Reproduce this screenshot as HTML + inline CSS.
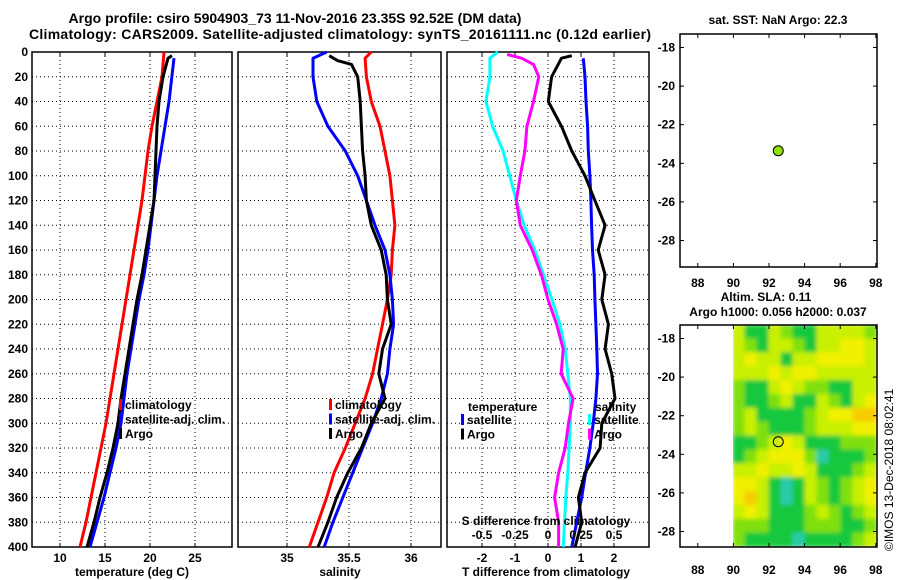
<!DOCTYPE html>
<html><head><meta charset="utf-8">
<style>
html,body{margin:0;padding:0;background:#fff;}
svg{display:block;font-family:"Liberation Sans",sans-serif;font-weight:bold;}
</style></head>
<body>
<svg id="c" width="900" height="580" viewBox="0 0 900 580">
<defs><filter id="bl" x="0" y="0" width="1" height="1"><feGaussianBlur stdDeviation="2.2"/></filter>
<clipPath id="hmclip"><rect x="733" y="325" width="144" height="222"/></clipPath></defs>
<text x="295" y="23" font-size="14" text-anchor="middle">Argo profile: csiro 5904903_73 11-Nov-2016 23.35S 92.52E (DM data)</text>
<text x="340" y="39" font-size="14" text-anchor="middle" textLength="622">Climatology: CARS2009. Satellite-adjusted climatology: synTS_20161111.nc (0.12d earlier)</text>
<text x="778" y="24" font-size="12" text-anchor="middle">sat. SST: NaN Argo: 22.3</text>
<text x="766" y="301" font-size="12" text-anchor="middle">Altim. SLA: 0.11</text>
<text x="778" y="316" font-size="12" text-anchor="middle">Argo h1000: 0.056 h2000: 0.037</text>
<text transform="translate(893,551) rotate(-90)" font-size="12" font-weight="normal">©IMOS 13-Dec-2018 08:02:41</text>
</svg>
<script>
// ---- data ----
const depthTicks=[0,20,40,60,80,100,120,140,160,180,200,220,240,260,280,300,320,340,360,380,400];
const tTicks=[10,15,20,25];
const sTicks=[35,35.5,36];
const dTTicks=[-2,-1,0,1,2];
const dSTicks=[-0.5,-0.25,0,0.25,0.5];
const dSTickLabels=["-0.5","-0.25","0","0.25","0.5"];
const lonTicks=[88,90,92,94,96,98];
const latTicks=[-18,-20,-22,-24,-26,-28];

const tClimDepth=[0,20,40,60,80,100,120,140,160,180,200,220,240,260,280,300,320,340,360,380,400];
const tClim=[21.56,21.33,20.78,20.22,19.78,19.44,19.11,18.67,18.22,17.78,17.33,16.89,16.44,16.0,15.56,15.11,14.56,14.0,13.44,12.89,12.22];
const tSatDepth=[5,40,60,80,100,120,140,160,180,200,220,240,260,280,300,320,340,360,380,400];
const tSat=[22.67,22.11,21.67,21.22,20.78,20.44,20.11,19.78,19.33,18.78,18.33,17.89,17.44,17.11,16.78,16.22,15.56,14.89,14.11,13.33];
const tArgoDepth=[3,5,20,40,60,80,100,120,140,160,180,200,220,240,260,280,300,320,340,360,380,400];
const tArgo=[22.44,22.0,21.44,21.0,20.78,20.67,20.56,20.44,20.0,19.56,19.11,18.56,18.11,17.67,17.22,16.78,16.44,15.89,15.22,14.44,13.78,13.0];

const sClimDepth=[0,5,20,40,60,80,100,120,140,160,180,200,220,240,260,280,300,320,340,360,380,400];
const sClim=[35.68,35.63,35.64,35.68,35.75,35.79,35.83,35.85,35.87,35.85,35.84,35.81,35.77,35.73,35.69,35.63,35.55,35.47,35.38,35.32,35.25,35.18];
const sSatDepth=[0,5,20,40,60,80,100,120,140,160,180,200,220,240,260,280,300,320,340,360,380,400];
const sSat=[35.32,35.21,35.21,35.24,35.33,35.47,35.57,35.64,35.71,35.79,35.83,35.85,35.86,35.83,35.81,35.76,35.69,35.61,35.53,35.45,35.37,35.30];
const sArgoDepth=[3,7,10,20,40,60,80,100,120,140,160,180,200,220,240,260,280,300,320,340,360,380,400];
const sArgo=[35.34,35.41,35.52,35.57,35.59,35.60,35.61,35.63,35.64,35.68,35.76,35.80,35.81,35.84,35.77,35.74,35.79,35.68,35.60,35.49,35.40,35.33,35.25];

const dTSatDepth=[5,20,40,60,80,100,120,140,160,180,200,220,240,260,280,300,320,340,360,380,400];
const dTSat=[1.07,1.12,1.15,1.2,1.22,1.27,1.3,1.32,1.35,1.4,1.42,1.45,1.48,1.5,1.45,1.37,1.27,1.14,1.02,0.87,0.72];
const dTArgoDepth=[3,5,20,40,60,80,100,120,140,160,180,200,220,240,260,280,300,320,340,360,380,400];
const dTArgo=[0.72,0.41,0.11,0.01,0.41,0.72,1.12,1.42,1.73,1.52,1.73,1.63,1.83,1.73,1.93,2.03,1.63,1.58,1.12,0.92,1.02,0.82];
const dSSatDepth=[0,5,20,40,60,80,100,120,140,160,180,200,220,240,260,280,300,320,340,360,380,400];
const dSSat=[-0.38,-0.44,-0.44,-0.47,-0.42,-0.34,-0.29,-0.24,-0.18,-0.10,-0.035,0.03,0.09,0.13,0.15,0.17,0.17,0.16,0.15,0.135,0.125,0.115];
const dSArgoDepth=[2,5,10,20,40,60,80,100,120,140,160,180,200,220,240,260,280,300,320,340,360,380,400];
const dSArgo=[-0.31,-0.20,-0.11,-0.07,-0.11,-0.16,-0.175,-0.21,-0.24,-0.21,-0.12,-0.05,0.0,0.065,0.115,0.10,0.19,0.155,0.13,0.08,0.05,0.08,0.08];

const argoLon=[92.52];
const argoLat=[-23.35];
const slaRows=[
[3,1,1,3,2,1,1,3,3,3,3,2],
[3,2,1,3,3,2,1,3,3,4,4,3],
[3,4,3,3,1,3,3,4,4,4,4,3],
[3,3,3,4,3,4,4,3,3,3,3,3],
[2,1,1,3,4,3,2,2,1,1,3,3],
[2,1,1,2,3,1,1,3,2,1,3,4],
[2,3,1,1,1,1,2,3,4,4,5,5],
[2,3,2,1,1,1,2,3,3,3,4,4],
[1,1,2,3,4,3,1,1,1,2,2,2],
[1,2,3,4,4,4,2,0,1,1,1,2],
[3,3,4,3,3,4,3,1,1,1,2,3],
[4,4,3,1,0,1,3,2,1,2,3,4],
[4,5,3,1,0,1,3,2,1,2,3,4],
[3,4,3,1,1,1,2,3,2,1,2,3],
[2,2,2,1,1,1,2,2,2,1,1,2],
[2,1,1,1,1,0,1,1,1,1,2,3]];
const slaColors=["#2ccaa8","#18c83c","#80e010","#c8f000","#f0f000","#f8cc00"];

// ---- helpers ----
const svg=document.getElementById('c');
const NS='http://www.w3.org/2000/svg';
function mk(tag,attrs,parent){const e=document.createElementNS(NS,tag);for(const k in attrs)e.setAttribute(k,attrs[k]);(parent||svg).appendChild(e);return e;}
const Y0=52,Y1=547;
const yD=d=>Y0+d*(Y1-Y0)/400;
const P1={x0:32,x1:232},P2={x0:238,x1:441},P3={x0:447,x1:649};
const xT=t=>60+(t-10)*9;
const xS=s=>287+(s-35)*124;
const xDT=t=>548+t*33;
const xDS=s=>548+s*132;

function panel(P,name,xticks,xf,labels){
  const g=mk('g',{});
  
  
  depthTicks.forEach(d=>{ if(d>0&&d<400) mk('line',{x1:P.x0,x2:P.x1,y1:yD(d),y2:yD(d),stroke:'#000','stroke-width':1,'stroke-dasharray':'1,3'},g);});
  xticks.forEach(v=>{mk('line',{x1:xf(v),x2:xf(v),y1:Y0,y2:Y1,stroke:'#000','stroke-width':1,'stroke-dasharray':'1,3'},g);
    mk('line',{x1:xf(v),x2:xf(v),y1:Y1,y2:Y1-4,stroke:'#000'},g);mk('line',{x1:xf(v),x2:xf(v),y1:Y0,y2:Y0+4,stroke:'#000'},g);});
  if(labels) xticks.forEach((v,i)=>{const t=mk('text',{x:xf(v),y:562,'font-size':12,'text-anchor':'middle'},g);t.textContent=labels[i];
    
    });
  mk('rect',{x:P.x0,y:Y0,width:P.x1-P.x0,height:Y1-Y0,fill:'none',stroke:'#000','stroke-width':1.5},g);
  return g;
}
function line(xs,ds,xf,color,name){
  const pts=xs.map((v,i)=>xf(v).toFixed(1)+','+yD(ds[i]).toFixed(1)).join(' ');
  const p=mk('polyline',{points:pts,fill:'none',stroke:color,'stroke-width':3,'stroke-linejoin':'round'});
  
  
}
function legend(x,y,items){
  items.forEach((it,i)=>{
    const r=mk('rect',{x:x,y:y+i*14.5-10,width:3,height:11,fill:it[1]});
    
    
    const t=mk('text',{x:x+6,y:y+i*14.5,'font-size':12});t.textContent=it[0];
    
    
  });
}
function txt(x,y,s,anchor,name,size){const t=mk('text',{x:x,y:y,'font-size':size||12,'text-anchor':anchor||'middle'});t.textContent=s;
  
  return t;}

// panel 1
panel(P1,'temperature-panel',tTicks,xT,tTicks.map(String));
depthTicks.forEach(d=>txt(28,yD(d)+4,String(d),'end','depth-tick-label'));
line(tClim,tClimDepth,xT,'#ff0000','temp-climatology-line');
line(tSat,tSatDepth,xT,'#0000ff','temp-satellite-line');
line(tArgo,tArgoDepth,xT,'#000000','temp-argo-line');
legend(119,409,[['climatology','#f00'],['satellite-adj. clim.','#00f'],['Argo','#000']]);
txt(132,576,'temperature (deg C)','middle','temperature-axis-title');

// panel 2
panel(P2,'salinity-panel',sTicks,xS,['35','35.5','36']);
line(sClim,sClimDepth,xS,'#ff0000','sal-climatology-line');
line(sSat,sSatDepth,xS,'#0000ff','sal-satellite-line');
line(sArgo,sArgoDepth,xS,'#000000','sal-argo-line');
legend(329,409,[['climatology','#f00'],['satellite-adj. clim.','#00f'],['Argo','#000']]);
txt(340,576,'salinity','middle','salinity-axis-title');

// panel 3
panel(P3,'difference-panel',dTTicks,xDT,dTTicks.map(String));
line(dTSat,dTSatDepth,xDT,'#0000ff','dT-satellite-line');
line(dTArgo,dTArgoDepth,xDT,'#000000','dT-argo-line');
line(dSSat,dSSatDepth,xDS,'#00ffff','dS-satellite-line');
line(dSArgo,dSArgoDepth,xDS,'#ff00ff','dS-argo-line');
legend(461,424,[['satellite','#00f'],['Argo','#000']]);
txt(468,411,'temperature','start','legend-title-temperature');
legend(588,424,[['satellite','#0ff'],['Argo','#f0f']]);
txt(595,411,'salinity','start','legend-title-salinity');
txt(546,525,'S difference from climatology','middle','s-diff-axis-title');
dSTicks.forEach((v,i)=>txt(xDS(v),539,dSTickLabels[i],'middle','s-diff-tick-label'));
txt(546,576,'T difference from climatology','middle','t-diff-axis-title');

// maps
const lonX=l=>680+(l-87)*17.8;
function mapPanel(top,bottom,name,labY){
  const latY=la=>top+13.5+(-18-la)*19.3;
  const g=mk('g',{});
  
  
  lonTicks.forEach(l=>{mk('line',{x1:lonX(l),x2:lonX(l),y1:bottom,y2:bottom-4,stroke:'#000'},g);mk('line',{x1:lonX(l),x2:lonX(l),y1:top,y2:top+4,stroke:'#000'},g);
    const t=mk('text',{x:lonX(l),y:labY,'font-size':12,'text-anchor':'middle'},g);t.textContent=String(l);
    
    });
  latTicks.forEach(la=>{mk('line',{x1:680,x2:684,y1:latY(la),y2:latY(la),stroke:'#000'},g);mk('line',{x1:877,x2:873,y1:latY(la),y2:latY(la),stroke:'#000'},g);
    const t=mk('text',{x:675,y:latY(la)+4,'font-size':12,'text-anchor':'end'},g);t.textContent=String(la);
    
    });
  return latY;
}
// SLA heatmap
const hg=mk('g',{'clip-path':'url(#hmclip)'});
const hgi=mk('g',{filter:'url(#bl)'},hg);
const nR=slaRows.length,nC=slaRows[0].length;
const cw=144/nC,ch=222/nR;
slaRows.forEach((row,r)=>row.forEach((v,c)=>{
  const cell=mk('rect',{x:733+c*cw-0.5,y:325+r*ch-0.5,width:cw+1,height:ch+1,fill:slaColors[v]},hgi);
  
  
}));
const latY1=mapPanel(34,267,'sst-map',287);
mk('rect',{x:680,y:34,width:197,height:233,fill:'none',stroke:'#000','stroke-width':1.5});
const latY2=mapPanel(325,547,'sla-map',574);
mk('rect',{x:680,y:325,width:197,height:222,fill:'none',stroke:'#000','stroke-width':1.5});
const d1=mk('circle',{cx:lonX(argoLon[0]),cy:latY1(argoLat[0]),r:5,fill:'#90e000',stroke:'#000','stroke-width':1});


const d2=mk('circle',{cx:lonX(argoLon[0]),cy:latY2(argoLat[0]),r:5,fill:'none',stroke:'#000','stroke-width':1});


</script>
</body></html>
